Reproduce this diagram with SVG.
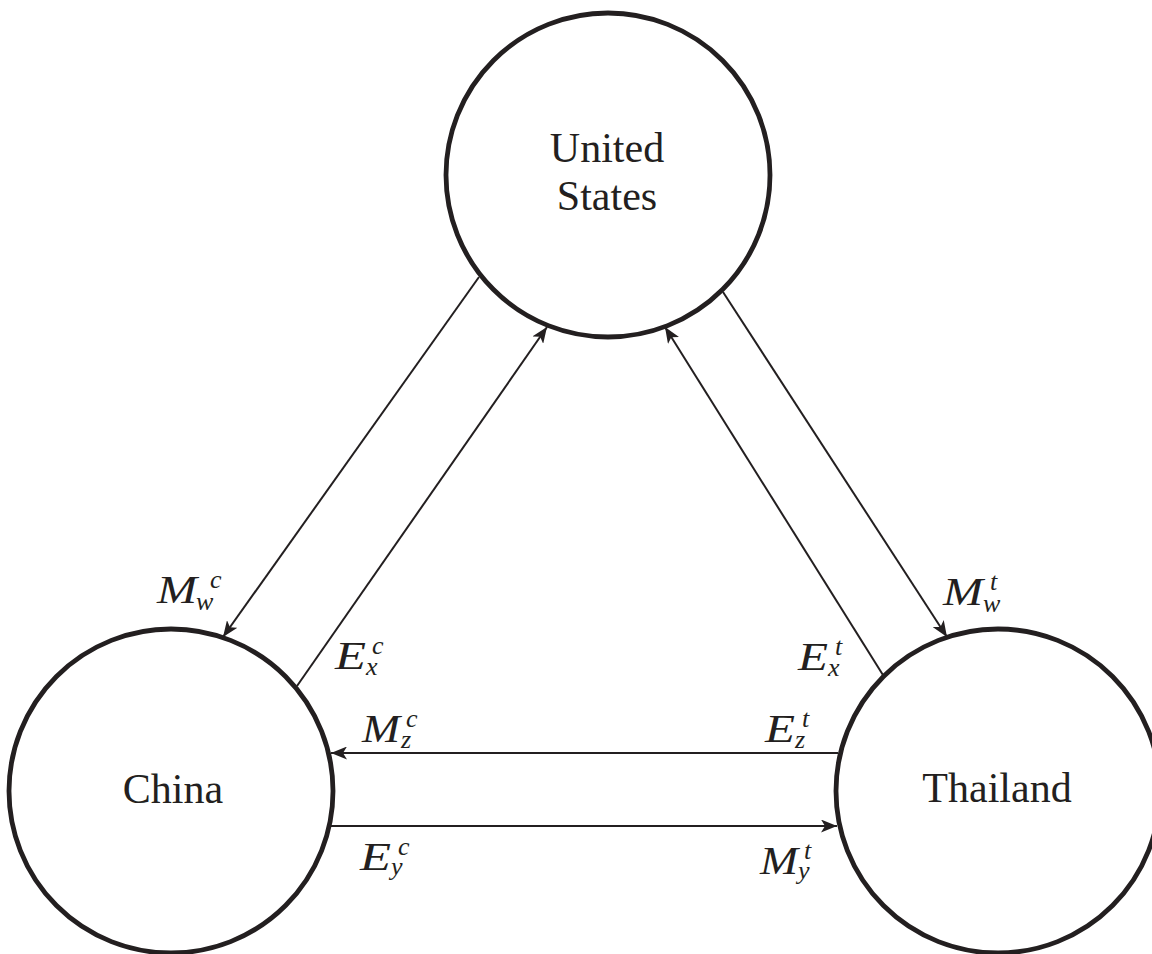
<svg xmlns="http://www.w3.org/2000/svg" width="1152" height="954" viewBox="0 0 1152 954">
<style>
.node circle{fill:#fff;stroke:#231f20;stroke-width:4.8}
.name{font-family:"Liberation Serif","Times New Roman",serif;font-size:42px;fill:#231f20;text-anchor:middle}
.conn line{stroke:#231f20;stroke-width:2;fill:none}
.m{font-family:"Liberation Serif","Times New Roman",serif;font-style:italic;font-size:40px;fill:#231f20}
.s{font-family:"Liberation Serif","Times New Roman",serif;font-style:italic;font-size:26px;fill:#231f20}
</style>
<defs>
<marker id="ah" markerUnits="userSpaceOnUse" markerWidth="16" markerHeight="13" viewBox="0 0 16 13" refX="16" refY="6.5" orient="auto">
<path d="M0,0 L16,6.5 L0,13 L4,6.5 Z" fill="#231f20"/>
</marker>
</defs>
<rect width="1152" height="954" fill="#fff"/>
<g id="us" class="node">
<circle cx="608" cy="175" r="162"/>
<text class="name" x="607" y="162">United</text>
<text class="name" x="607" y="210">States</text>
</g>
<g id="china" class="node">
<circle cx="171" cy="791" r="162"/>
<text class="name" x="173" y="803">China</text>
</g>
<g id="thailand" class="node">
<circle cx="998" cy="791" r="162"/>
<text class="name" x="997" y="802">Thailand</text>
</g>
<g id="connectors" class="conn">
<line x1="479" y1="277" x2="223" y2="637" marker-end="url(#ah)"/>
<line x1="297" y1="686" x2="547" y2="327" marker-end="url(#ah)"/>
<line x1="883" y1="675" x2="665" y2="327" marker-end="url(#ah)"/>
<line x1="723" y1="292" x2="947" y2="637" marker-end="url(#ah)"/>
<line x1="838" y1="753" x2="331" y2="753" marker-end="url(#ah)"/>
<line x1="331" y1="826" x2="837" y2="826" marker-end="url(#ah)"/>
</g>
<g id="label-mwc">
<text class="m" x="157" y="603" textLength="40" lengthAdjust="spacingAndGlyphs">M</text>
<text class="s" x="196" y="610">w</text>
<text class="s" x="210" y="588">c</text>
</g>
<g id="label-exc">
<text class="m" x="335" y="669" textLength="31" lengthAdjust="spacingAndGlyphs">E</text>
<text class="s" x="366" y="675">x</text>
<text class="s" x="372" y="654">c</text>
</g>
<g id="label-mwt">
<text class="m" x="943" y="605" textLength="40" lengthAdjust="spacingAndGlyphs">M</text>
<text class="s" x="983" y="612">w</text>
<text class="s" x="990" y="590">t</text>
</g>
<g id="label-ext">
<text class="m" x="798" y="670" textLength="30" lengthAdjust="spacingAndGlyphs">E</text>
<text class="s" x="828" y="676">x</text>
<text class="s" x="835" y="655">t</text>
</g>
<g id="label-mzc">
<text class="m" x="362" y="742" textLength="38" lengthAdjust="spacingAndGlyphs">M</text>
<text class="s" x="401" y="748">z</text>
<text class="s" x="406" y="727">c</text>
</g>
<g id="label-ezt">
<text class="m" x="765" y="742" textLength="30" lengthAdjust="spacingAndGlyphs">E</text>
<text class="s" x="795" y="748">z</text>
<text class="s" x="802" y="727">t</text>
</g>
<g id="label-eyc">
<text class="m" x="360" y="870" textLength="31" lengthAdjust="spacingAndGlyphs">E</text>
<text class="s" x="391" y="875">y</text>
<text class="s" x="398" y="855">c</text>
</g>
<g id="label-myt">
<text class="m" x="760" y="874" textLength="38" lengthAdjust="spacingAndGlyphs">M</text>
<text class="s" x="798" y="879">y</text>
<text class="s" x="804" y="859">t</text>
</g>
</svg>
